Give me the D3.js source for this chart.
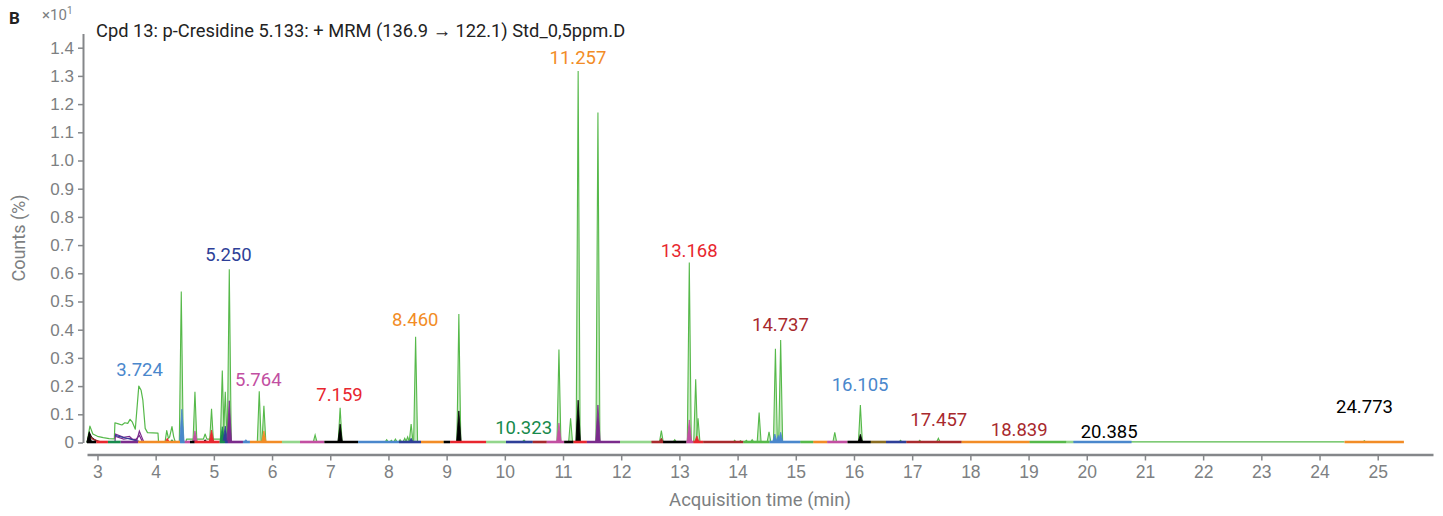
<!DOCTYPE html>
<html>
<head>
<meta charset="utf-8">
<script src="https://cdn.jsdelivr.net/npm/d3@7"></script>
<style>
  body { margin: 0; background: #fff; }
  svg { display: block; font-family: Roboto, "Noto Sans", sans-serif; }
</style>
</head>
<body>
<svg id="chart" width="1443" height="516"></svg>
<script>
// ---- data -------------------------------------------------------------
const chartTitle = "Cpd 13: p-Cresidine 5.133: + MRM (136.9 \u2192 122.1) Std_0,5ppm.D";
const xTicks = [3,4,5,6,7,8,9,10,11,12,13,14,15,16,17,18,19,20,21,22,23,24,25];
const yTicks = [0,0.1,0.2,0.3,0.4,0.5,0.6,0.7,0.8,0.9,1.0,1.1,1.2,1.3,1.4];

// main (green) trace: baseline / plateau points [min, counts x10^1 %]
const greenTrace = [
  [2.82,0.0],[2.87,0.058],[2.92,0.03],[3.0,0.022],[3.1,0.017],[3.2,0.014],[3.29,0.013],
  [3.3,0.07],[3.36,0.066],[3.42,0.062],[3.47,0.07],[3.52,0.068],[3.56,0.082],[3.6,0.072],
  [3.65,0.047],[3.71,0.2],[3.75,0.185],[3.78,0.15],[3.82,0.05],[3.86,0.035],[4.04,0.033],
  [4.05,0],[4.16,0],[4.19,0.042],[4.22,0.015],[4.24,0.02],[4.28,0.056],[4.31,0.02],[4.34,0],
  [4.52,0],[4.53,0.012],[4.82,0.012],[4.85,0.03],[4.88,0.012],[5.28,0.012],[5.3,0.002],
  [10.3,0.002],[10.33,0.008],[10.36,0.002],[24.43,0.002]
];

// green spikes: [retention time, apex]
const greenPeaks = [
  [4.44,0.535],[4.675,0.18],[4.96,0.12],[5.145,0.255],[5.196,0.18],[5.265,0.614],
  [5.78,0.182],[5.86,0.13],[6.74,0.027],[7.17,0.123],
  [7.97,0.01],[8.05,0.008],[8.12,0.012],[8.2,0.01],[8.28,0.015],[8.33,0.02],
  [8.39,0.065],[8.467,0.375],[9.21,0.456],[10.93,0.33],[11.13,0.086],[11.26,1.317],
  [11.60,1.17],[12.69,0.042],[12.92,0.01],[13.17,0.638],[13.28,0.224],[13.32,0.086],
  [13.95,0.008],[14.05,0.006],[14.15,0.008],[14.25,0.01],
  [14.37,0.106],[14.54,0.038],[14.65,0.332],[14.74,0.363],[15.67,0.036],[16.11,0.133],
  [16.80,0.008],[17.13,0.008],[17.45,0.015],[24.77,0.006]
];

// filled transition peaks: [retention time, apex, trace colour key]
const filledPeaks = [
  [2.86,0.035,"K"],[4.2,0.015,"R"],[4.28,0.01,"DG"],[4.45,0.118,"SB"],[4.675,0.041,"M"],
  [4.85,0.01,"K"],[4.96,0.044,"R"],[5.145,0.056,"DG"],[5.196,0.058,"DB"],[5.265,0.148,"P"],
  [5.55,0.01,"SB"],[5.86,0.041,"O"],[7.17,0.065,"K"],[8.39,0.015,"DB"],[9.21,0.112,"K"],
  [10.93,0.069,"M"],[11.26,0.15,"K"],[11.60,0.133,"P"],[12.69,0.015,"DR"],[13.17,0.08,"M"],
  [13.3,0.023,"R"],[14.64,0.03,"SB"],[14.7,0.025,"SB"],[14.74,0.036,"SB"],[16.11,0.029,"K"]
];

// early low-level transition traces
const blackTrace  = [[2.82,0],[2.86,0.035],[2.9,0.018],[2.95,0.01],[3.0,0.005],[3.05,0]];
const darkRedTrace = [[2.83,0],[2.86,0.025],[2.92,0.012],[3.0,0.006],[3.1,0]];
const purpleTrace = [[3.3,0],[3.31,0.03],[3.45,0.018],[3.55,0.022],[3.6,0.012],[3.68,0.01],[3.72,0.04],[3.76,0.02],[3.8,0]];
const purpleTrace2 = [[3.3,0.022],[3.45,0.012],[3.55,0.015],[3.65,0.008],[3.72,0.025],[3.78,0]];
const darkBlueTrace = [[3.3,0.025],[3.5,0.015],[3.7,0.005],[3.75,0]];

// baseline windows of each transition: [start, end, colour key]
const baselineSegments = [
  [2.82,2.98,"K"],[2.98,3.18,"R"],[3.18,3.4,"DG"],[3.4,3.7,"P"],[3.7,4.42,"O"],
  [4.42,4.5,"SB"],[4.5,4.59,"M"],[4.59,4.67,"K"],[4.67,5.1,"R"],[5.1,5.19,"DG"],
  [5.19,5.24,"DB"],[5.24,5.5,"P"],[5.5,5.62,"SB"],[5.62,6.17,"O"],[6.17,6.48,"LG"],
  [6.48,6.9,"M"],[6.9,7.48,"K"],[7.48,8.18,"SB"],[8.18,8.56,"DB"],[8.56,8.95,"O"],
  [8.95,9.06,"K"],[9.06,9.68,"R"],[9.68,10.02,"LG"],[10.02,10.48,"DB"],[10.48,10.72,"DR"],
  [10.72,11.02,"M"],[11.02,11.18,"K"],[11.18,11.41,"R"],[11.41,11.98,"P"],[11.98,12.52,"LG"],
  [12.52,12.72,"DR"],[12.72,13.12,"K"],[13.12,13.24,"M"],[13.24,13.41,"R"],[13.41,14.1,"DR"],
  [14.1,14.55,"G"],[14.55,15.08,"SB"],[15.08,15.3,"G"],[15.3,15.54,"O"],[15.54,15.89,"M"],
  [15.89,16.29,"K"],[16.29,16.55,"OL"],[16.55,16.9,"DB"],[16.9,17.85,"DR"],[17.85,19.02,"O"],
  [19.02,19.65,"G"],[19.65,19.77,"LG"],[19.77,20.77,"SB"],[24.43,25.45,"O"]
];

// peak annotations: [retention time label, label height, colour key]
const peakLabels = [
  ["3.724",0.236,"SB"],["5.250",0.644,"DB"],["5.764",0.2,"M"],["7.159",0.147,"R"],
  ["8.460",0.413,"O"],["10.323",0.03,"DG"],["11.257",1.342,"O"],["13.168",0.658,"R"],
  ["14.737",0.395,"DR"],["16.105",0.183,"SB"],["17.457",0.059,"DR"],["18.839",0.023,"DR"],
  ["20.385",0.016,"K"],["24.773",0.105,"K"]
];

// ---- styling ------------------------------------------------------------
const palette = {
  K: "#000000", R: "#e8262e", DG: "#178a4c", P: "#7a2b8c", O: "#f28c26",
  SB: "#4a87cc", M: "#c24fa2", DB: "#2e3f98", DR: "#a8292d", G: "#56b94a",
  LG: "#93d68c", OL: "#8a6d22"
};
const green = "#56b94a";
const axisGrey = "#85878a";
const textGrey = "#7d7f82";

// ---- layout -------------------------------------------------------------
const svg = d3.select("#chart");
const x = d3.scaleLinear().domain([2.82, 25.95]).range([87, 1433]);
const y = d3.scaleLinear().domain([0, 1.45]).range([442.5, 33.6]);
const xAxisY = 454.5;
const yAxisX = 83;

const line = d3.line().x(d => x(d[0])).y(d => y(d[1]));
const spike = (rt, h, w) => [[rt - w, 0], [rt, h], [rt + w, 0]];

// ---- axes ---------------------------------------------------------------
const yAxis = d3.axisLeft(y)
  .tickValues(yTicks)
  .tickFormat(d => d === 0 ? "0" : d3.format(".1f")(d))
  .tickSize(5).tickSizeOuter(0).tickPadding(4);
const gy = svg.append("g").attr("transform", `translate(${yAxisX},0)`).call(yAxis);
gy.select(".domain").attr("stroke", axisGrey).attr("stroke-width", 2);
gy.selectAll(".tick line").attr("stroke", axisGrey).attr("stroke-width", 1.5);
gy.selectAll(".tick text").attr("fill", textGrey).style("font-size", "17px");

const xAxis = d3.axisBottom(x)
  .tickValues(xTicks)
  .tickFormat(d3.format("d"))
  .tickSize(6).tickSizeOuter(0).tickPadding(5);
const gx = svg.append("g").attr("transform", `translate(0,${xAxisY})`).call(xAxis);
gx.select(".domain").attr("stroke", axisGrey).attr("stroke-width", 2.5);
gx.selectAll(".tick line").attr("stroke", axisGrey).attr("stroke-width", 1.5);
gx.selectAll(".tick text").attr("fill", textGrey).style("font-size", "17.5px");

// ---- traces -------------------------------------------------------------
const plot = svg.append("g");

// main green trace
plot.append("path").datum(greenTrace)
  .attr("d", line).attr("fill", "none")
  .attr("stroke", green).attr("stroke-width", 1.2).attr("stroke-linejoin", "round");

plot.selectAll("path.gspike").data(greenPeaks).join("path")
  .attr("class", "gspike")
  .attr("d", d => line(spike(d[0], d[1], 0.034)))
  .attr("fill", "#b9e3b2").attr("fill-opacity", 0.8)
  .attr("stroke", green).attr("stroke-width", 1.1).attr("stroke-linejoin", "miter");

// small early transition traces
[[blackTrace, "K"], [darkRedTrace, "DR"], [purpleTrace, "P"], [purpleTrace2, "P"], [darkBlueTrace, "DB"]]
  .forEach(([pts, c]) => {
    plot.append("path").datum(pts)
      .attr("d", line).attr("fill", "none")
      .attr("stroke", palette[c]).attr("stroke-width", 1.2);
  });

// filled transition peaks
plot.selectAll("path.fpeak").data(filledPeaks).join("path")
  .attr("class", "fpeak")
  .attr("d", d => line(spike(d[0], d[1], 0.04)) + "Z")
  .attr("fill", d => palette[d[2]])
  .attr("stroke", d => palette[d[2]]).attr("stroke-width", 0.8);

// transition baseline windows
plot.selectAll("line.seg").data(baselineSegments).join("line")
  .attr("class", "seg")
  .attr("x1", d => x(d[0])).attr("x2", d => x(d[1]))
  .attr("y1", y(0) - 0.5).attr("y2", y(0) - 0.5)
  .attr("stroke", d => palette[d[2]]).attr("stroke-width", 2.6);

// ---- peak labels ----------------------------------------------------------
svg.selectAll("text.peak").data(peakLabels).join("text")
  .attr("class", "peak")
  .attr("x", d => x(+d[0])).attr("y", d => y(d[1]))
  .attr("text-anchor", "middle")
  .attr("fill", d => palette[d[2]])
  .style("font-size", "18.5px")
  .text(d => d[0]);

// ---- titles -------------------------------------------------------------
svg.append("text").attr("x", 9).attr("y", 24)
  .style("font-size", "17px").style("font-weight", "bold").attr("fill", "#222")
  .text("B");

const mult = svg.append("text").attr("x", 42).attr("y", 20)
  .style("font-size", "15px").attr("fill", textGrey);
mult.append("tspan").text("\u00d710");
mult.append("tspan").attr("dy", -6).style("font-size", "10px").text("1");

svg.append("text").attr("x", 96).attr("y", 37)
  .style("font-size", "18.3px").attr("fill", "#222")
  .text(chartTitle);

svg.append("text")
  .attr("transform", "translate(25,238) rotate(-90)")
  .attr("text-anchor", "middle")
  .style("font-size", "18px").attr("fill", textGrey)
  .text("Counts (%)");

svg.append("text").attr("x", 760).attr("y", 506)
  .attr("text-anchor", "middle")
  .style("font-size", "18.5px").attr("fill", textGrey)
  .text("Acquisition time (min)");
</script>
</body>
</html>
